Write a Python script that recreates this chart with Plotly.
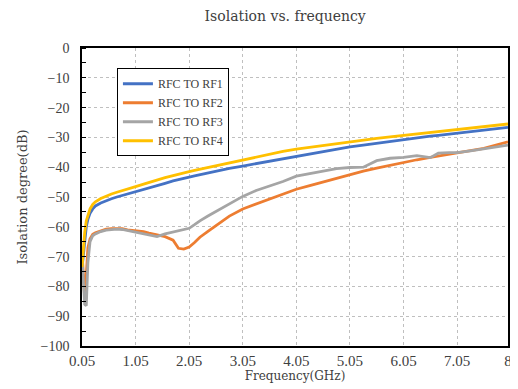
import plotly.graph_objects as go

freq = [0.05, 0.08, 0.1, 0.13, 0.16, 0.2, 0.25, 0.3, 0.4, 0.5, 0.6, 0.7, 0.8, 0.9,
        1.05, 1.2, 1.3, 1.45, 1.6, 1.75, 1.85, 1.95, 2.05, 2.15, 2.25, 2.4, 2.6, 2.8,
        3.05, 3.3, 3.55, 3.8, 4.05, 4.3, 4.55, 4.8, 5.05, 5.3, 5.55, 5.8, 6.05, 6.3,
        6.55, 6.7, 6.9, 7.05, 7.3, 7.55, 7.8, 8.0]

rf1 = [-74, -68, -64, -60, -57.5, -55.5, -54, -53, -52, -51.2, -50.6, -50, -49.5, -49,
       -48.4, -47.6, -47.1, -46.2, -45.4, -44.6, -44.1, -43.7, -43.3, -42.9, -42.5, -42, -41.2, -40.4,
       -39.6, -38.8, -38, -37.1, -36.2, -35.5, -34.8, -34, -33.2, -32.6, -32, -31.3, -30.6, -30.1,
       -29.6, -29.3, -28.9, -28.5, -28, -27.5, -27, -26.6]

rf2 = [-68, -78, -84, -76, -67, -64, -62.5, -62, -61.3, -60.8, -60.6, -60.5, -60.6, -61,
       -61.3, -61.6, -62.1, -62.8, -63.3, -64.5, -67.2, -67.5, -66.8, -65.3, -63.5, -61.5, -58.8, -56.4,
       -54, -52.3, -50.6, -49, -47.4, -46.2, -45, -43.7, -42.4, -41.3, -40.3, -39.3, -38.4, -37.5,
       -36.7, -36.2, -35.6, -35.1, -34.4, -33.7, -32.6, -31.5]

rf3 = [-70, -80, -86, -86.5, -72, -65, -63, -62.4, -61.6, -61.1, -60.9, -60.8, -60.9, -61.3,
       -61.7, -62.3, -62.8, -63.3, -62.4, -61.8, -61.3, -61, -60.5, -59.3, -58, -56.4, -54.3, -52.3,
       -49.8, -47.8, -46.3, -44.8, -43, -42.2, -41.3, -40.5, -40.1, -40, -37.8, -37, -36.7, -36.1,
       -36.8, -35.3, -35.1, -35.1, -34.5, -33.8, -33.2, -32.6]

rf4 = [-73.5, -66, -62, -58, -56, -54, -52.5, -51.6, -50.5, -49.7, -49, -48.4, -47.8, -47.3,
       -46.5, -45.7, -45.1, -44.3, -43.5, -42.8, -42.3, -41.9, -41.5, -41.1, -40.7, -40.1, -39.3, -38.5,
       -37.6, -36.6, -35.6, -34.7, -33.9, -33.3, -32.6, -31.9, -31.3, -30.8, -30.3, -29.8, -29.3, -28.8,
       -28.4, -28.1, -27.7, -27.4, -26.9, -26.4, -25.9, -25.5]

series_names = ["RFC TO RF1", "RFC TO RF2", "RFC TO RF3", "RFC TO RF4"]
series_vals = [rf1, rf2, rf3, rf4]
colors = ["#4472C4", "#ED7D31", "#A5A5A5", "#FFC000"]

x_tickvals = [0.05, 1.05, 2.05, 3.05, 4.05, 5.05, 6.05, 7.05, 8]
x_ticktext = ["0.05", "1.05", "2.05", "3.05", "4.05", "5.05", "6.05", "7.05", "8"]
y_tickvals = [0, -10, -20, -30, -40, -50, -60, -70, -80, -90, -100]

FONT = "DejaVu Serif, serif"
LFONT = "Liberation Serif, serif"
TXT = "#404040"

fig = go.Figure()
for name, vals, col in zip(series_names, series_vals, colors):
    fig.add_trace(go.Scatter(x=freq, y=vals, mode="lines", name=name,
                             line=dict(color=col, width=2.8)))

# the page body adds an 8px offset, so margins are shifted by 8px
fig.update_layout(
    width=518, height=389,
    paper_bgcolor="white", plot_bgcolor="white",
    margin=dict(l=74, r=18, t=40, b=51),
    font=dict(family=FONT, size=12, color=TXT),
    title=dict(text="Isolation vs. frequency", x=0.535, xanchor="center",
               y=0.978, yanchor="middle", font=dict(family=FONT, size=14, color=TXT)),
    legend=dict(x=0.082, y=0.932, xanchor="left", yanchor="top",
                bgcolor="white", bordercolor="black", borderwidth=1,
                font=dict(family=LFONT, size=12, color=TXT),
                itemwidth=30, tracegroupgap=0),
    showlegend=True,
)

fig.update_xaxes(
    range=[0.05, 8], tickmode="array", tickvals=x_tickvals, ticktext=x_ticktext,
    showgrid=True, gridcolor="#BFBFBF", griddash="dot", gridwidth=1,
    showline=True, linecolor="black", linewidth=1.5, mirror=True,
    ticks="", zeroline=False, automargin=False,
    tickfont=dict(family=LFONT, size=15, color=TXT),
    title=dict(text="Frequency(GHz)", standoff=0,
               font=dict(family=FONT, size=12, color=TXT)),
)
fig.update_yaxes(
    range=[-100, 0], tickmode="array", tickvals=y_tickvals,
    showgrid=True, gridcolor="#BFBFBF", griddash="dot", gridwidth=1,
    showline=True, linecolor="black", linewidth=1.5, mirror=True,
    ticks="", zeroline=False, automargin=False, ticklabelstandoff=8,
    minor=dict(ticks="inside", dtick=5, ticklen=4, tickcolor="black", showgrid=False),
    tickfont=dict(family=LFONT, size=14, color=TXT),
    title=dict(text="Isolation degree(dB)", standoff=10,
               font=dict(family=FONT, size=13, color=TXT)),
)

fig.write_html("out.html")
